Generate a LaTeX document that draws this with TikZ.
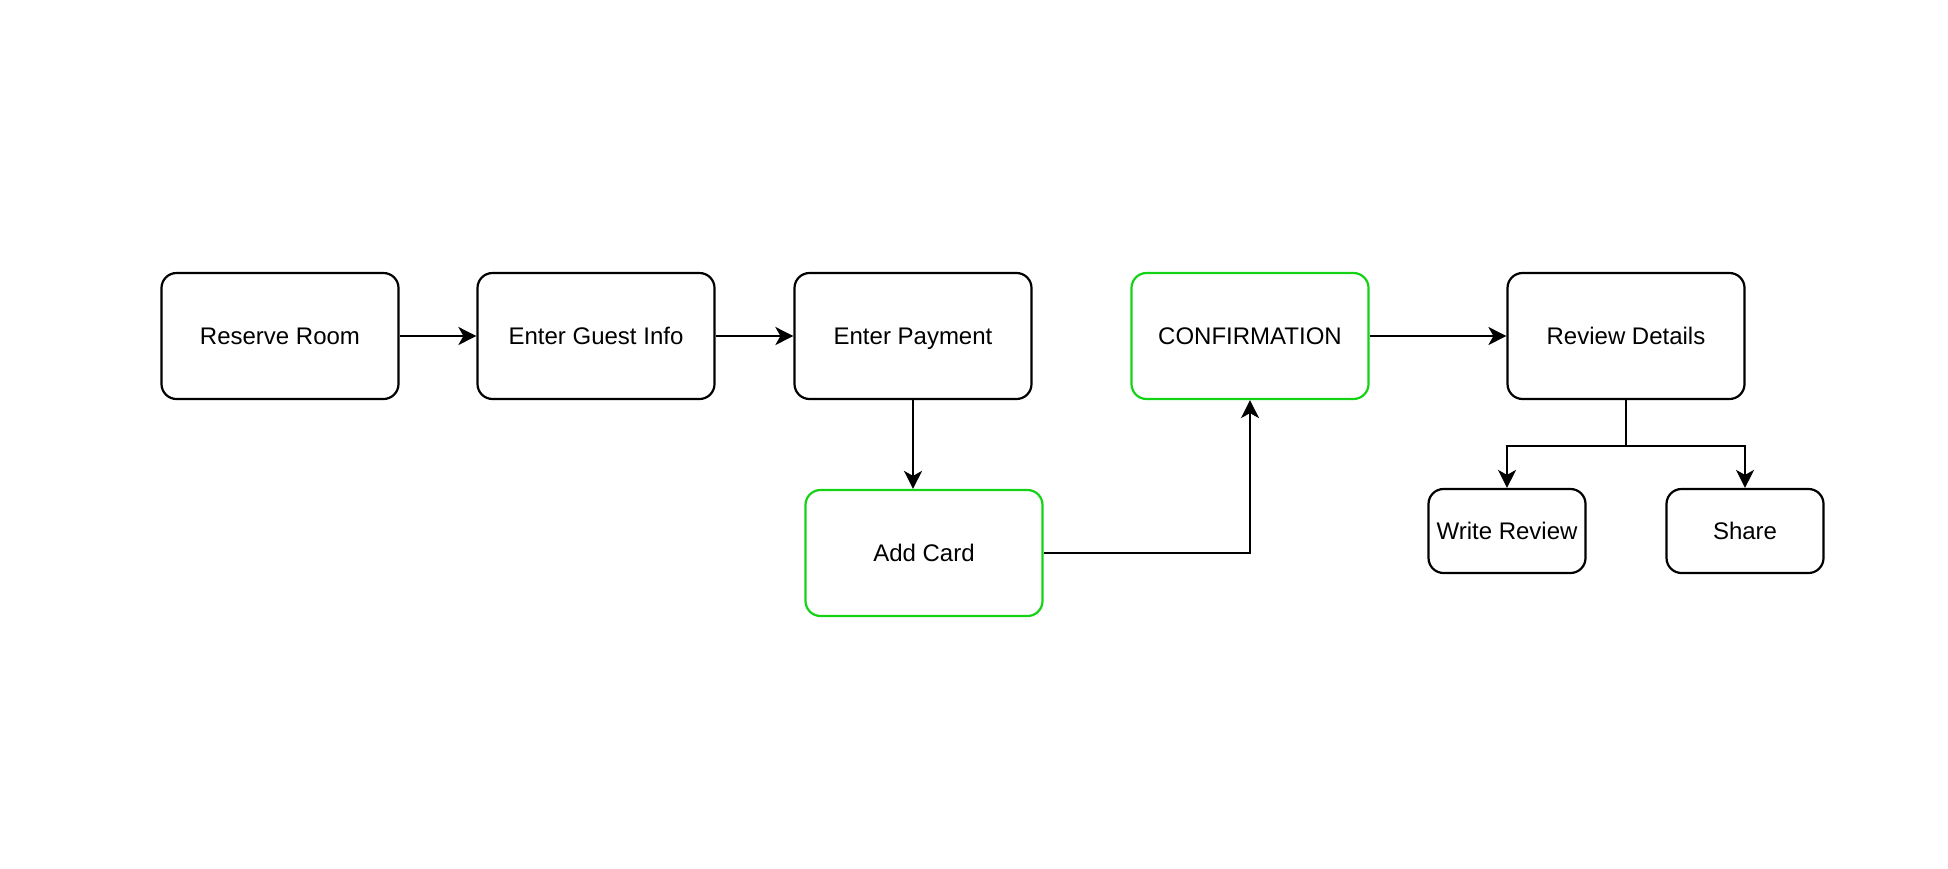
\documentclass[tikz,border=0pt]{standalone}
\usepackage{fontspec}
\setmainfont{Liberation Sans}
\usetikzlibrary{arrows.meta}
\definecolor{confgreen}{HTML}{14D214}

\begin{document}
\begin{tikzpicture}[x=.5pt,y=-.5pt]
          \useasboundingbox (0,0) rectangle (1948,868);
          \tikzset{StepStyle/.style = {
              shape = rectangle,
              rounded corners = 7.5pt,
              draw = black,
              line width = 1.1pt,
              inner sep = 0pt,
              text height = 10pt,
              text depth = 1.5pt,
              minimum width = 118.5pt,
              minimum height = 63pt,
              font = \fontsize{12}{14}\selectfont},
            SmallStyle/.style = {
              StepStyle,
              minimum width = 78.5pt,
              minimum height = 42pt},
            EdgeStyle/.style = {
              line width = 1.1pt,
              -{Stealth[length=9pt,width=9pt,inset=2.5pt]}}}
          % top row
          \node[StepStyle] (reserve) at (280,336) {Reserve Room};
          \node[StepStyle] (guest) at (596,336) {Enter Guest Info};
          \node[StepStyle] (payment) at (913,336) {Enter Payment};
          \node[StepStyle,draw=confgreen] (confirm) at (1250,336) {CONFIRMATION};
          \node[StepStyle] (review) at (1626,336) {Review Details};
          % lower row
          \node[StepStyle,draw=confgreen] (card) at (924,553) {Add Card};
          \node[SmallStyle] (write) at (1507,531) {Write Review};
          \node[SmallStyle] (share) at (1745,531) {Share};
          \coordinate (fork) at (1626,446);
          \draw[EdgeStyle] (reserve) -- (guest);
          \draw[EdgeStyle] (guest) -- (payment);
          \draw[EdgeStyle] (payment.south) -- (payment.south |- card.north);
          \draw[EdgeStyle] (card.east) -| (confirm.south);
          \draw[EdgeStyle] (confirm) -- (review);
          \draw[EdgeStyle] (review.south) -- (fork) -| (write.north);
          \draw[EdgeStyle] (fork) -| (share.north);
        \end{tikzpicture}
\end{document}
